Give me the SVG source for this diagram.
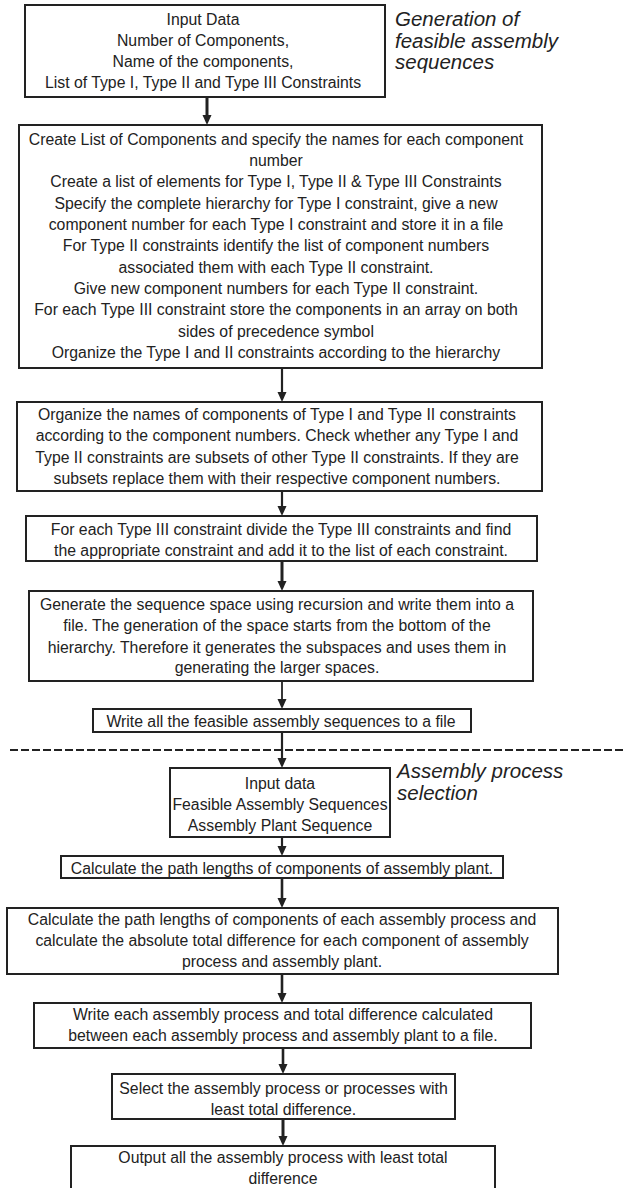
<svg xmlns="http://www.w3.org/2000/svg" width="623" height="1188" viewBox="0 0 623 1188">
<style>
.box{fill:#fff;stroke:#222;stroke-width:2}
.t{font-family:"Liberation Sans",Arial,sans-serif;font-size:15.8px;fill:#222;text-anchor:middle}
.side{font-family:"Liberation Sans",Arial,sans-serif;font-size:20.5px;font-style:italic;fill:#222}
.ln{stroke:#222;fill:none}
.ah{fill:#222}
</style>
<rect width="623" height="1188" fill="#fff"/>
<g id="connectors">
<line class="ln" x1="207" y1="97" x2="207" y2="116" stroke-width="3"/>
<polygon class="ah" points="202.5,115 211.5,115 207,125"/>
<line class="ln" x1="282" y1="368" x2="282" y2="393" stroke-width="2.2"/>
<polygon class="ah" points="277.5,392 286.5,392 282,402"/>
<line class="ln" x1="282" y1="491" x2="282" y2="507" stroke-width="2.2"/>
<polygon class="ah" points="277.5,506 286.5,506 282,516"/>
<line class="ln" x1="282" y1="561" x2="282" y2="582" stroke-width="3"/>
<polygon class="ah" points="277.5,581 286.5,581 282,591"/>
<line class="ln" x1="282" y1="681" x2="282" y2="700" stroke-width="1.8"/>
<polygon class="ah" points="277.5,699 286.5,699 282,709"/>
<line class="ln" x1="282" y1="732" x2="282" y2="759" stroke-width="2.2"/>
<polygon class="ah" points="277.5,758 286.5,758 282,768"/>
<line class="ln" x1="282" y1="837" x2="282" y2="847" stroke-width="2.2"/>
<polygon class="ah" points="277.5,846 286.5,846 282,856"/>
<line class="ln" x1="282" y1="878" x2="282" y2="899" stroke-width="2.6"/>
<polygon class="ah" points="277.5,898 286.5,898 282,908"/>
<line class="ln" x1="282" y1="974" x2="282" y2="994" stroke-width="2.6"/>
<polygon class="ah" points="277.5,993 286.5,993 282,1003"/>
<line class="ln" x1="283" y1="1048" x2="283" y2="1065" stroke-width="2.6"/>
<polygon class="ah" points="278.5,1064 287.5,1064 283,1074"/>
<line class="ln" x1="283" y1="1119" x2="283" y2="1137" stroke-width="3"/>
<polygon class="ah" points="278.5,1136 287.5,1136 283,1146"/>
</g>
<g id="divider">
<line x1="10" y1="750" x2="623" y2="750" stroke="#222" stroke-width="2" stroke-dasharray="8,3"/>
</g>
<g id="label-generation">
<text class="side" x="395" y="26">Generation of</text>
<text class="side" x="395" y="47.5">feasible assembly</text>
<text class="side" x="395" y="69">sequences</text>
</g>
<g id="label-selection">
<text class="side" x="397" y="778">Assembly process</text>
<text class="side" x="397" y="800">selection</text>
</g>
<g id="n1">
<rect class="box" x="25" y="5" width="360" height="92" stroke-width="2.4"/>
<text class="t" x="203" y="24.5">Input Data</text>
<text class="t" x="203" y="45.5">Number of Components,</text>
<text class="t" x="203" y="66.5">Name of the components,</text>
<text class="t" x="203" y="87.5">List of Type I, Type II and Type III Constraints</text>
</g>
<g id="n2">
<rect class="box" x="19" y="125" width="523" height="243"/>
<text class="t" x="276" y="144.5">Create List of Components and specify the names for each component</text>
<text class="t" x="276" y="165.9">number</text>
<text class="t" x="276" y="187.2">Create a list of elements for Type I, Type II &amp; Type III Constraints</text>
<text class="t" x="276" y="208.6">Specify the complete hierarchy for Type I constraint, give a new</text>
<text class="t" x="276" y="229.9">component number for each Type I constraint and store it in a file</text>
<text class="t" x="276" y="251.3">For Type II constraints identify the list of component numbers</text>
<text class="t" x="276" y="272.6">associated them with each Type II constraint.</text>
<text class="t" x="276" y="294">Give new component numbers for each Type II constraint.</text>
<text class="t" x="276" y="315.3">For each Type III constraint store the components in an array on both</text>
<text class="t" x="276" y="336.7">sides of precedence symbol</text>
<text class="t" x="276" y="358">Organize the Type I and II constraints according to the hierarchy</text>
</g>
<g id="n3">
<rect class="box" x="17" y="402" width="525" height="89"/>
<text class="t" x="277" y="419.5">Organize the names of components of Type I and Type II constraints</text>
<text class="t" x="277" y="441">according to the component numbers. Check whether any Type I and</text>
<text class="t" x="277" y="462.5">Type II constraints are subsets of other Type II constraints. If they are</text>
<text class="t" x="277" y="484">subsets replace them with their respective component numbers.</text>
</g>
<g id="n4">
<rect class="box" x="26" y="516" width="511" height="45"/>
<text class="t" x="281" y="534.5">For each Type III constraint divide the Type III constraints and find</text>
<text class="t" x="281" y="556">the appropriate constraint and add it to the list of each constraint.</text>
</g>
<g id="n5">
<rect class="box" x="29" y="591" width="504" height="90"/>
<text class="t" x="277" y="609.5">Generate the sequence space using recursion and write them into a</text>
<text class="t" x="277" y="631">file. The generation of the space starts from the bottom of the</text>
<text class="t" x="277" y="652.5">hierarchy. Therefore it generates the subspaces and uses them in</text>
<text class="t" x="277" y="673">generating the larger spaces.</text>
</g>
<g id="n6">
<rect class="box" x="93" y="709" width="378" height="23"/>
<text class="t" x="281" y="726.5">Write all the feasible assembly sequences to a file</text>
</g>
<g id="n7">
<rect class="box" x="170" y="768" width="220" height="69"/>
<text class="t" x="280" y="788.5">Input data</text>
<text class="t" x="280" y="809.5">Feasible Assembly Sequences</text>
<text class="t" x="280" y="831">Assembly Plant Sequence</text>
</g>
<g id="n8">
<rect class="box" x="61" y="856" width="442" height="22"/>
<text class="t" x="282" y="873.5">Calculate the path lengths of components of assembly plant.</text>
</g>
<g id="n9">
<rect class="box" x="7" y="908" width="551" height="66"/>
<text class="t" x="282" y="924.5">Calculate the path lengths of components of each assembly process and</text>
<text class="t" x="282" y="945.5">calculate the absolute total difference for each component of assembly</text>
<text class="t" x="282" y="967">process and assembly plant.</text>
</g>
<g id="n10">
<rect class="box" x="34" y="1003" width="497" height="45"/>
<text class="t" x="283" y="1019.5">Write each assembly process and total difference calculated</text>
<text class="t" x="283" y="1041">between each assembly process and assembly plant to a file.</text>
</g>
<g id="n11">
<rect class="box" x="112" y="1074" width="343" height="45"/>
<text class="t" x="283.5" y="1093.5">Select the assembly process or processes with</text>
<text class="t" x="283.5" y="1114.5">least total difference.</text>
</g>
<g id="n12">
<rect class="box" x="71" y="1146" width="424" height="60"/>
<text class="t" x="283" y="1162.5">Output all the assembly process with least total</text>
<text class="t" x="283" y="1183.5">difference</text>
</g>
</svg>
